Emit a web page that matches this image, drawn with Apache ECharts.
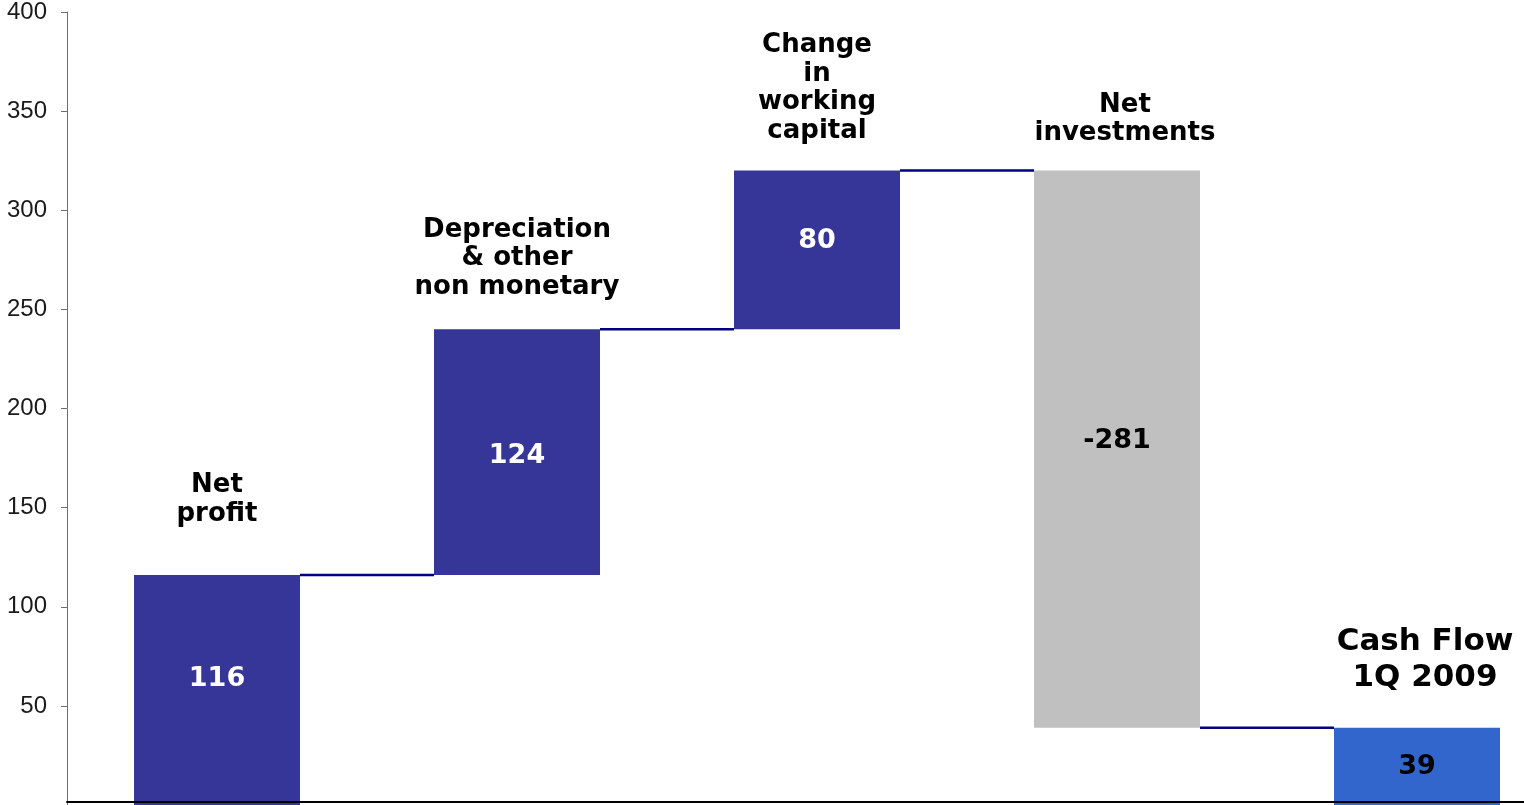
<!DOCTYPE html>
<html>
<head>
<meta charset="utf-8">
<script src="https://cdn.jsdelivr.net/npm/echarts@6/dist/echarts.min.js"></script>
<style>
html,body{margin:0;padding:0;background:#fff;}
#chart{width:1524px;height:805px;}
</style>
</head>
<body>
<div id="chart"></div>
<script>
// ---- data ----
var categories = ['Net\nprofit', 'Depreciation\n& other\nnon monetary', 'Change\nin\nworking\ncapital', 'Net\ninvestments', 'Cash Flow\n1Q 2009'];
var values = [116, 124, 80, -281, 39];
var isTotal = [false, false, false, false, true];
var yTicks = [0, 50, 100, 150, 200, 250, 300, 350, 400];

// ---- derived waterfall geometry (values only) ----
var bases = [], heights = [], tops = [], levels = [];
var running = 0;
for (var i = 0; i < values.length; i++) {
  var v = values[i];
  if (isTotal[i]) {
    bases.push(0); heights.push(v); running = v;
  } else if (v >= 0) {
    bases.push(running); heights.push(v); running += v;
  } else {
    bases.push(running + v); heights.push(-v); running += v;
  }
  tops.push(bases[i] + heights[i]);
  levels.push(running);
}

// ---- styling ----
var barColors = ['#363699', '#363699', '#363699', '#C0C0C0', '#3366CC'];
var valueLabelColors = ['#ffffff', '#ffffff', '#ffffff', '#000000', '#000000'];
var valueLabelShift = [-11, 4, -9, -8, 1];
var catLabelGap = [46, 28, 25, 23, 32];
var catLabelSize = [26, 26, 26, 26, 31];
var catLabelLH = [29, 28.5, 28.7, 28, 36];
var catLabelDx = [0, 0, 0, 8, 8];
var BAR_W = 166;

var chart = echarts.init(document.getElementById('chart'));
var option = {
  animation: false,
  backgroundColor: '#ffffff',
  grid: { left: 67, top: 12, width: 1500, bottom: 0, containLabel: false, outerBoundsMode: 'none' },
  xAxis: {
    type: 'category',
    data: categories,
    offset: -3,
    z: 10,
    axisLine: { show: true, onZero: false, lineStyle: { color: '#000000', width: 2 } },
    axisTick: { show: false },
    axisLabel: { show: false },
    splitLine: { show: false }
  },
  yAxis: {
    type: 'value',
    min: yTicks[0],
    max: yTicks[yTicks.length - 1],
    interval: 50,
    axisLine: { show: true, lineStyle: { color: '#6e6e6e', width: 1 } },
    axisTick: { show: true, inside: false, length: 6, lineStyle: { color: '#6e6e6e' } },
    axisLabel: {
      showMinLabel: false,
      margin: 20,
      color: '#1a1a1a',
      fontFamily: 'Liberation Sans',
      fontSize: 24
    },
    splitLine: { show: false }
  },
  series: [
    {
      name: 'base',
      type: 'bar',
      stack: 'wf',
      barWidth: BAR_W,
      itemStyle: { color: 'transparent' },
      silent: true,
      data: bases
    },
    {
      name: 'value',
      type: 'bar',
      stack: 'wf',
      barWidth: BAR_W,
      data: heights.map(function (h, i) {
        return {
          value: h,
          itemStyle: { color: barColors[i] },
          label: {
            show: true,
            position: 'inside',
            offset: [0, valueLabelShift[i]],
            formatter: String(values[i]),
            color: valueLabelColors[i],
            fontFamily: 'DejaVu Sans',
            fontWeight: 'bold',
            fontSize: 27
          }
        };
      })
    },
    {
      name: 'connectors',
      type: 'custom',
      silent: true,
      z: 5,
      renderItem: function (params, api) {
        var idx = api.value(0);
        var lvl = api.value(1);
        var p0 = api.coord([idx, lvl]);
        var p1 = api.coord([idx + 1, lvl]);
        return {
          type: 'line',
          shape: { x1: p0[0] + BAR_W / 2, y1: p0[1], x2: p1[0] - BAR_W / 2, y2: p1[1] },
          style: { stroke: '#000080', lineWidth: 2.5 }
        };
      },
      data: levels.slice(0, levels.length - 1).map(function (l, i) { return [i, l]; })
    },
    {
      name: 'catLabels',
      type: 'scatter',
      symbolSize: 0,
      silent: true,
      itemStyle: { opacity: 1, color: '#000000' },
      data: tops.map(function (t, i) {
        return {
          value: [i, t],
          label: {
            show: true,
            position: 'top',
            distance: catLabelGap[i],
            offset: [catLabelDx[i], 0],
            formatter: categories[i],
            align: 'center',
            color: '#000000',
            opacity: 1,
            fontFamily: 'DejaVu Sans',
            fontWeight: 'bold',
            fontSize: catLabelSize[i],
            lineHeight: catLabelLH[i]
          }
        };
      })
    }
  ]
};
chart.setOption(option);
</script>
</body>
</html>
